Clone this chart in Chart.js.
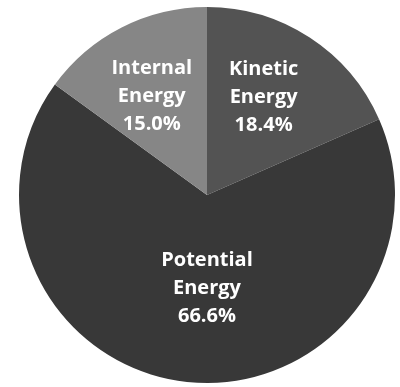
<!DOCTYPE html>
<html>
<head>
<meta charset="utf-8">
<script src="https://cdn.jsdelivr.net/npm/chart.js@4"></script>
<style>
  html, body { margin: 0; padding: 0; background: #fff; }
  #grafico { display: block; }
</style>
</head>
<body>
<canvas id="grafico" width="400" height="387"></canvas>
<script>
// Energy breakdown — slices run clockwise from 12 o'clock
const categorias = ['Kinetic Energy', 'Potential Energy', 'Internal Energy'];
const valores    = [18.4, 66.6, 15.0];
const cores      = ['#535353', '#383838', '#868686'];

// how far out (fraction of radius) each label sits, plus a small nudge in px
const raioRotulo   = [0.6, 0.5, 0.6];
const ajusteRotulo = [[-5, -3], [10, 0], [-4, 2]];

// draws the white labels inside each slice
const rotulosPlugin = {
  id: 'rotulos',
  afterDatasetsDraw(chart) {
    const ctx = chart.ctx;
    const arcos = chart.getDatasetMeta(0).data;
    ctx.save();
    ctx.fillStyle = '#ffffff';
    ctx.font = "bold 20px 'Open Sans', sans-serif";
    ctx.textAlign = 'center';
    ctx.textBaseline = 'middle';
    arcos.forEach((arco, i) => {
      const meio = (arco.startAngle + arco.endAngle) / 2;
      const r = arco.outerRadius * raioRotulo[i];
      const x = arco.x + Math.cos(meio) * r + ajusteRotulo[i][0];
      const y = arco.y + Math.sin(meio) * r + ajusteRotulo[i][1];
      const linhas = categorias[i].split(' ').concat(valores[i].toFixed(1) + '%');
      linhas.forEach((linha, j) => {
        ctx.fillText(linha, x, y + (j - 1) * 28);
      });
    });
    ctx.restore();
  }
};

new Chart(document.getElementById('grafico'), {
  type: 'pie',
  data: {
    labels: categorias,
    datasets: [{
      data: valores,
      backgroundColor: cores,
      borderWidth: 0
    }]
  },
  options: {
    responsive: false,
    animation: false,
    layout: { padding: { left: 19, right: 5, top: 7, bottom: 4 } },
    plugins: {
      legend: { display: false },
      tooltip: { enabled: false }
    }
  },
  plugins: [rotulosPlugin]
});
</script>
</body>
</html>
